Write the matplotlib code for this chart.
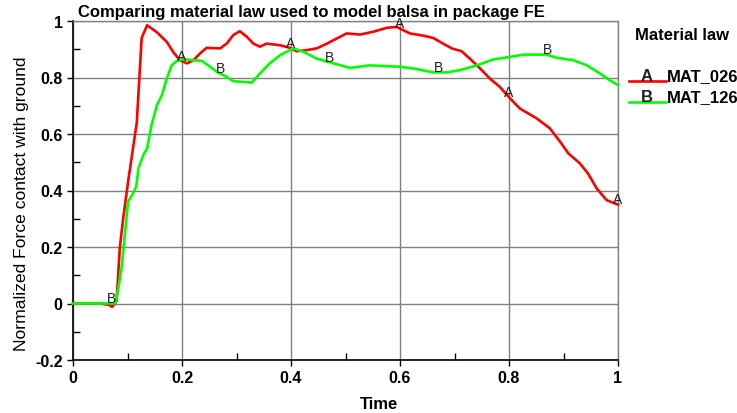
import numpy as np
import matplotlib
matplotlib.use('Agg')
import matplotlib.pyplot as plt
from matplotlib.lines import Line2D
from matplotlib.ticker import MultipleLocator

plt.rcParams['font.family'] = ['Liberation Sans', 'DejaVu Sans']

# MAT_026 (red)
t_026 = [0.0, 0.05, 0.066, 0.072, 0.08, 0.086, 0.092, 0.101, 0.117, 0.126, 0.136,
         0.154, 0.172, 0.184, 0.196, 0.209, 0.221, 0.233, 0.245, 0.27, 0.282, 0.294,
         0.306, 0.319, 0.331, 0.343, 0.355, 0.38, 0.398, 0.41, 0.429, 0.447, 0.466,
         0.484, 0.502, 0.527, 0.551, 0.576, 0.594, 0.618, 0.643, 0.661, 0.679, 0.695,
         0.713, 0.728, 0.747, 0.765, 0.783, 0.802, 0.82, 0.851, 0.875, 0.894, 0.909,
         0.93, 0.945, 0.961, 0.979, 1.0]
f_026 = [0.0, 0.0, -0.005, -0.012, 0.01, 0.2, 0.30, 0.43, 0.64, 0.94, 0.985,
         0.96, 0.926, 0.89, 0.861, 0.85, 0.861, 0.885, 0.905, 0.903, 0.92, 0.95,
         0.964, 0.944, 0.92, 0.909, 0.92, 0.914, 0.905, 0.893, 0.897, 0.903, 0.92,
         0.938, 0.956, 0.952, 0.962, 0.976, 0.979, 0.956, 0.948, 0.94, 0.92, 0.903,
         0.893, 0.867, 0.832, 0.796, 0.767, 0.726, 0.69, 0.655, 0.62, 0.572, 0.531,
         0.496, 0.46, 0.407, 0.366, 0.35]

# MAT_126 (green)
t_126 = [0.0, 0.07, 0.077, 0.08, 0.089, 0.095, 0.101, 0.108, 0.116, 0.12, 0.129,
         0.136, 0.144, 0.154, 0.163, 0.172, 0.181, 0.19, 0.202, 0.221, 0.236, 0.248,
         0.264, 0.282, 0.294, 0.328, 0.343, 0.361, 0.38, 0.404, 0.423, 0.447, 0.478,
         0.508, 0.545, 0.6, 0.624, 0.661, 0.686, 0.71, 0.741, 0.771, 0.802, 0.826,
         0.869, 0.887, 0.918, 0.943, 0.967, 0.985, 1.0]
f_126 = [0.0, 0.0, 0.0, 0.018, 0.124, 0.242, 0.36, 0.383, 0.413, 0.478, 0.525,
         0.549, 0.631, 0.702, 0.737, 0.796, 0.843, 0.858, 0.865, 0.861, 0.859, 0.843,
         0.82, 0.802, 0.787, 0.782, 0.814, 0.85, 0.879, 0.903, 0.891, 0.867, 0.85,
         0.834, 0.843, 0.838, 0.832, 0.818, 0.818, 0.826, 0.843, 0.864, 0.873, 0.881,
         0.881, 0.87, 0.861, 0.843, 0.814, 0.79, 0.773]

# where the curve letters sit
label_x_026 = [0.2, 0.4, 0.6, 0.8, 1.0]
label_x_126 = [0.07, 0.27, 0.47, 0.67, 0.87]

x_ticks = [0, 0.2, 0.4, 0.6, 0.8, 1]
x_tick_labels = ['0', '0.2', '0.4', '0.6', '0.8', '1']
y_ticks = [-0.2, 0, 0.2, 0.4, 0.6, 0.8, 1]
y_tick_labels = ['-0.2', '0', '0.2', '0.4', '0.6', '0.8', '1']

fig = plt.figure(figsize=(7.37, 4.14), dpi=100)
ax = fig.add_axes([73 / 737, 1 - 361 / 414, 545 / 737, 339 / 414])

ax.plot(t_026, f_026, color='#ff0000', linewidth=1.9, zorder=3, clip_on=False)
ax.plot(t_126, f_126, color='#00ff00', linewidth=1.9, zorder=4, clip_on=False)

# letters along the curves
for x in label_x_026:
    y = np.interp(x, t_026, f_026)
    ax.text(x, y - 0.005, 'A', ha='center', va='bottom', fontsize=10, color='#202020', zorder=5)
for x in label_x_126:
    y = np.interp(x, t_126, f_126)
    ax.text(x, y - 0.005, 'B', ha='center', va='bottom', fontsize=10, color='#202020', zorder=5)

ax.set_xlim(0, 1)
ax.set_ylim(-0.2, 1)
ax.set_xticks(x_ticks)
ax.set_xticklabels(x_tick_labels, fontweight='bold', fontsize=11.5)
ax.set_yticks(y_ticks)
ax.set_yticklabels(y_tick_labels, fontweight='bold', fontsize=11.5)
ax.xaxis.set_minor_locator(MultipleLocator(0.1))
ax.yaxis.set_minor_locator(MultipleLocator(0.1))
ax.tick_params(which='major', direction='out', length=4, width=1, color='black')
ax.tick_params(which='minor', direction='in', length=5, width=1, color='black')

ax.grid(True, which='major', color='#808080', linewidth=1)
ax.set_axisbelow(True)
for side in ['left', 'bottom']:
    ax.spines[side].set_color('black')
    ax.spines[side].set_linewidth(1.2)
for side in ['top', 'right']:
    ax.spines[side].set_color('#808080')
    ax.spines[side].set_linewidth(1)

ax.set_ylabel('Normalized Force contact with ground', fontsize=12.6)
ax.yaxis.set_label_coords(-0.080, 0.463)
fig.text(379 / 737, 1 - 405 / 414, 'Time', fontweight='bold', fontsize=12,
         ha='center', va='center')

fig.text(78 / 737, 1 - 12 / 414, 'Comparing material law used to model balsa in package FE',
         fontweight='bold', fontsize=12, ha='left', va='center')

# legend drawn by hand
fig.text(635 / 737, 1 - 36 / 414, 'Material law', fontweight='bold', fontsize=12,
         ha='left', va='center')
legend_rows = [('A', 'MAT_026', '#ff0000', 82), ('B', 'MAT_126', '#00ff00', 103)]
for letter, name, color, py in legend_rows:
    yy = 1 - py / 414
    fig.add_artist(Line2D([629 / 737, 666 / 737], [yy, yy], color=color, linewidth=1.9,
                          transform=fig.transFigure))
    fig.text(647 / 737, yy - 0.004, letter, fontsize=12, fontweight='bold', ha='center',
             va='bottom', color='#202020')
    fig.text(667 / 737, yy - 0.004, name, fontsize=12, fontweight='bold', ha='left', va='bottom')

fig.savefig('out.png', dpi=100)
